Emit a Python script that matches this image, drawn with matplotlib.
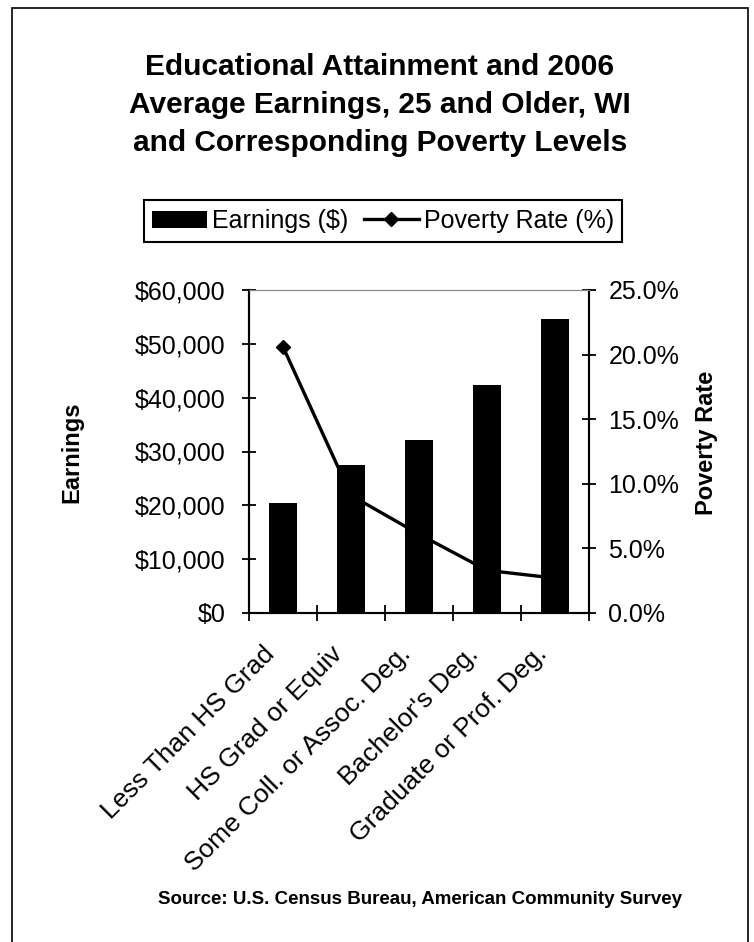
import numpy as np
import matplotlib
matplotlib.use("Agg")
import matplotlib.pyplot as plt
from matplotlib.patches import Rectangle
from matplotlib.ticker import FuncFormatter, FixedLocator

plt.rcParams["font.family"] = ["Liberation Sans", "DejaVu Sans"]

categories = ["Less Than HS Grad", "HS Grad or Equiv", "Some Coll. or Assoc. Deg.",
              "Bachelor's Deg.", "Graduate or Prof. Deg."]
earnings = [20400, 27400, 32100, 42400, 54700]
poverty_rate = [20.6, 9.1, 6.1, 3.3, 2.7]

x = np.arange(len(categories))

fig = plt.figure(figsize=(7.54, 9.42), dpi=100)
fig.patches.append(Rectangle((12 / 754, -0.01), 736 / 754, 1 - 8 / 942 + 0.01,
                             transform=fig.transFigure, fill=False,
                             edgecolor="black", linewidth=1.2))

ax = fig.add_axes([249 / 754, 1 - 613 / 942, 340 / 754, 323 / 942])
ax2 = ax.twinx()

# line sits behind the bars, gray background on the back axes
ax.set_zorder(ax2.get_zorder() + 1)
ax.patch.set_visible(False)
ax2.set_facecolor("#e6e6e6")

ax2.plot(x, poverty_rate, color="black", linewidth=2.4, marker="D", markersize=7,
         label="Poverty Rate (%)")
bars = ax.bar(x, earnings, width=0.42, color="black", label="Earnings ($)")

ax.set_xlim(-0.5, len(categories) - 0.5)
ax.set_ylim(0, 60000)
ax2.set_ylim(0, 25)
ax.set_yticks(np.arange(0, 60001, 10000))
ax2.set_yticks(np.arange(0, 25.1, 5))
ax.yaxis.set_major_formatter(FuncFormatter(lambda v, p: f"${v:,.0f}"))
ax2.yaxis.set_major_formatter(FuncFormatter(lambda v, p: f"{v:.1f}%"))

# category labels sit a bit left of the bar centres, like Excel does
ax.set_xticks(x)
ax.set_xticklabels([])
for xi, name in zip(x, categories):
    ax.annotate(name, xy=(xi, 0), xycoords=("data", "axes fraction"),
                xytext=(-12, -37), textcoords="offset pixels",
                rotation=45, ha="right", va="center", rotation_mode="anchor",
                fontsize=19, annotation_clip=False)
ax.xaxis.set_minor_locator(FixedLocator(np.arange(-0.5, len(categories), 1)))
ax.tick_params(axis="x", which="major", length=0)
ax.tick_params(axis="x", which="minor", direction="inout", length=12, width=1.3)
ax.tick_params(axis="y", direction="inout", length=10, width=1.3, pad=12, labelsize=18)
ax2.tick_params(axis="y", direction="inout", length=10, width=1.3, pad=9, labelsize=18)

for a in (ax, ax2):
    a.spines["top"].set_color("#888888")
    a.spines["top"].set_linewidth(0.8)
    for s in ("left", "right", "bottom"):
        a.spines[s].set_linewidth(1.5)

fig.text(380 / 754, 1 - 105 / 942,
         "Educational Attainment and 2006\nAverage Earnings, 25 and Older, WI\nand Corresponding Poverty Levels",
         ha="center", va="center", fontsize=21.5, fontweight="bold", linespacing=1.45)

handles = [bars, ax2.get_lines()[0]]
leg = fig.legend(handles, ["Earnings ($)", "Poverty Rate (%)"], loc="center",
                 bbox_to_anchor=(383 / 754, 1 - 221 / 942), ncol=2, fontsize=18,
                 frameon=True, fancybox=False, edgecolor="black", framealpha=1,
                 handlelength=2.2, handletextpad=0.2, columnspacing=0.6,
                 borderpad=0.35)
leg.get_frame().set_linewidth(1.5)

fig.text(72 / 754, 1 - 452 / 942, "Earnings", rotation=90, ha="center", va="center",
         fontsize=17, fontweight="bold")
fig.text(707 / 754, 1 - 443 / 942, "Poverty Rate", rotation=90, ha="center", va="center",
         fontsize=17, fontweight="bold")
fig.text(420 / 754, 1 - 900 / 942, "Source: U.S. Census Bureau, American Community Survey",
         ha="center", va="center", fontsize=13.5, fontweight="bold")

fig.savefig("out.png", dpi=100)
